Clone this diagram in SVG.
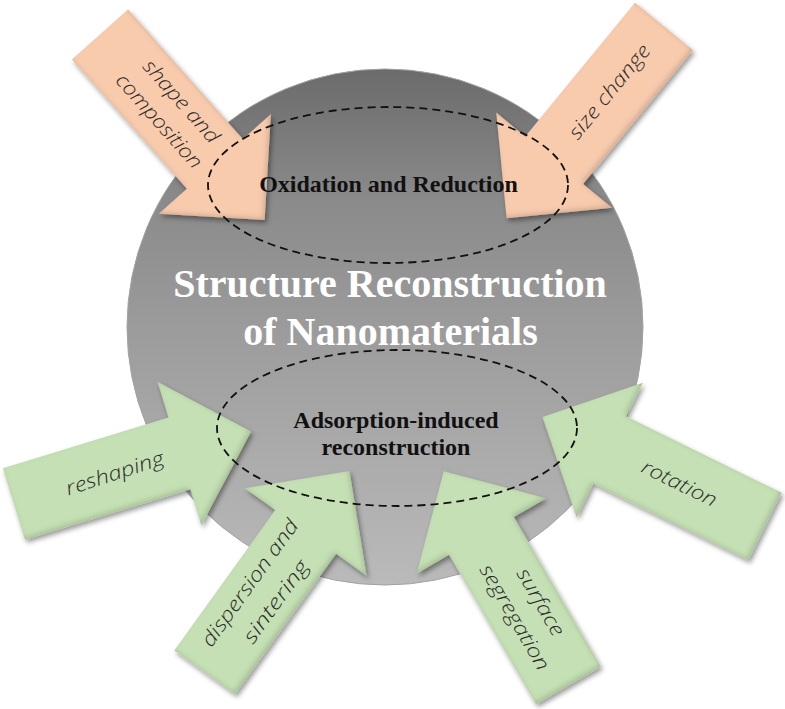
<svg xmlns="http://www.w3.org/2000/svg" xmlns:xlink="http://www.w3.org/1999/xlink" width="785" height="709" viewBox="0 0 785 709">
  <defs>
    <linearGradient id="gCircle" x1="0" y1="0" x2="0" y2="1">
      <stop offset="0" stop-color="#6b6b6b"/>
      <stop offset="0.25" stop-color="#8a8a8a"/>
      <stop offset="0.5" stop-color="#9b9b9b"/>
      <stop offset="0.75" stop-color="#ababab"/>
      <stop offset="1" stop-color="#bababa"/>
    </linearGradient>
    <filter id="sh" x="-20%" y="-20%" width="140%" height="140%">
      <feGaussianBlur in="SourceAlpha" stdDeviation="2.5" result="blur"/>
      <feOffset in="blur" dx="2" dy="3" result="off"/>
      <feFlood flood-color="#000" flood-opacity="0.4"/>
      <feComposite in2="off" operator="in" result="drop"/>
      <feOffset in="blur" dx="-2" dy="-2" result="off2"/>
      <feComposite in="SourceAlpha" in2="off2" operator="out" result="rim"/>
      <feFlood flood-color="#000" flood-opacity="0.3"/>
      <feComposite in2="rim" operator="in" result="rimc"/>
      <feMerge>
        <feMergeNode in="drop"/>
        <feMergeNode in="SourceGraphic"/>
        <feMergeNode in="rimc"/>
      </feMerge>
    </filter>
    <path id="arr" d="M0,-37.5H173V-75L248,0L173,75V37.5H0Z"/>
    <style>
      .peach { fill: #f8cbad; }
      .green { fill: #c5e0b4; }
      .hand { font-family: "Segoe Print", "Comic Sans MS", "Open Sans", sans-serif; font-style: italic; font-weight: 300; font-size: 20px; fill: #2a2a2a; text-anchor: middle; }
      .inner { font-family: "Liberation Serif", "Times New Roman", serif; font-weight: bold; font-size: 24px; fill: #111; text-anchor: middle; }
      .title { font-family: "Liberation Serif", "Times New Roman", serif; font-weight: bold; font-size: 40px; fill: #ffffff; text-anchor: middle; }
      .dash { fill: none; stroke: #111; stroke-width: 1.8; stroke-dasharray: 8 5; }
    </style>
  </defs>

  <g id="center-circle">
    <circle cx="385" cy="327" r="258" fill="url(#gCircle)" stroke="#a2a2a2" stroke-width="1"/>
  </g>

  <g id="arrows">
    <g id="arrow-shape-composition">
      <g filter="url(#sh)"><use xlink:href="#arr" href="#arr" class="peach" transform="translate(100,34.5) rotate(48.4)"/></g>
      <g transform="translate(169,112.2) rotate(48.4)">
        <text class="hand" x="0" y="-9.7" textLength="104" lengthAdjust="spacingAndGlyphs">shape and</text>
        <text class="hand" x="0" y="20" textLength="119" lengthAdjust="spacingAndGlyphs">composition</text>
      </g>
    </g>
    <g id="arrow-size-change">
      <g filter="url(#sh)"><use xlink:href="#arr" href="#arr" class="peach" transform="translate(664,26.5) rotate(129.4)"/></g>
      <text class="hand" transform="translate(610,92) rotate(-50.6)" x="0" y="6" textLength="116" lengthAdjust="spacingAndGlyphs">size change</text>
    </g>
    <g id="arrow-reshaping">
      <g filter="url(#sh)"><use xlink:href="#arr" href="#arr" class="green" transform="translate(14,504) rotate(-17)"/></g>
      <text class="hand" transform="translate(115,474) rotate(-18)" x="0" y="6" textLength="102" lengthAdjust="spacingAndGlyphs">reshaping</text>
    </g>
    <g id="arrow-dispersion-sintering">
      <g filter="url(#sh)"><use xlink:href="#arr" href="#arr" class="green" transform="translate(206.5,670) rotate(-54.3) translate(-3,0)"/></g>
      <g transform="translate(262.6,592.1) rotate(-54.3)">
        <text class="hand" x="0" y="-9" textLength="151" lengthAdjust="spacingAndGlyphs">dispersion and</text>
        <text class="hand" x="0" y="23" textLength="97" lengthAdjust="spacingAndGlyphs">sintering</text>
      </g>
    </g>
    <g id="arrow-surface-segregation">
      <g filter="url(#sh)"><use xlink:href="#arr" href="#arr" class="green" transform="translate(568.5,685.5) rotate(-120.2)"/></g>
      <g transform="translate(527,610) rotate(59.8)">
        <text class="hand" x="0" y="-9" textLength="75" lengthAdjust="spacingAndGlyphs">surface</text>
        <text class="hand" x="0" y="21" textLength="119" lengthAdjust="spacingAndGlyphs">segregation</text>
      </g>
    </g>
    <g id="arrow-rotation">
      <g filter="url(#sh)"><use xlink:href="#arr" href="#arr" class="green" transform="translate(765,526.5) rotate(-153.8)"/></g>
      <text class="hand" transform="translate(679,484) rotate(26.2)" x="0" y="6" textLength="81" lengthAdjust="spacingAndGlyphs">rotation</text>
    </g>
  </g>

  <g id="oxidation-reduction">
    <ellipse class="dash" cx="388" cy="185" rx="180" ry="78"/>
    <text class="inner" x="388.5" y="192">Oxidation and Reduction</text>
  </g>

  <g id="adsorption-induced">
    <ellipse class="dash" cx="397" cy="428" rx="180" ry="78"/>
    <text class="inner" x="396" y="428">Adsorption-induced</text>
    <text class="inner" x="396" y="455">reconstruction</text>
  </g>

  <g id="title">
    <text class="title" x="390" y="297">Structure Reconstruction</text>
    <text class="title" x="390.5" y="345">of Nanomaterials</text>
  </g>
</svg>
